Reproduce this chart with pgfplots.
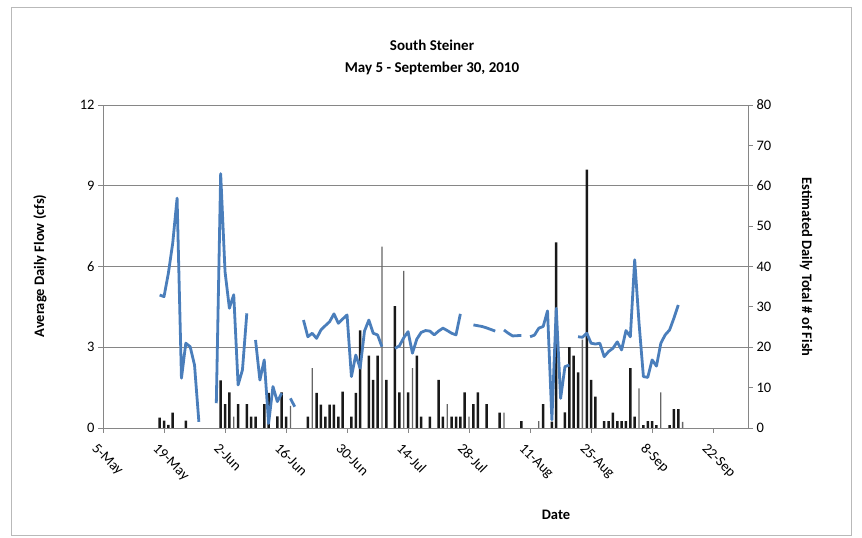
\documentclass[border=0pt]{standalone}
\usepackage{pgfplots}
\usepackage{pgfplotstable}
\pgfplotsset{compat=1.18}
\usepackage{fontspec}
\setmainfont{Carlito}
\definecolor{flowblue}{RGB}{74,126,187}
\definecolor{axgray}{RGB}{134,134,134}
\newcommand\tickfont{\fontsize{14.5}{16}\selectfont}
\newcommand\titlefont{\bfseries\fontsize{15}{17}\selectfont}
\newcommand\labfont{\bfseries\fontsize{14.5}{17}\selectfont}

% day = days after 5 May 2010
\pgfplotstableread{
day flow
13 4.94
14 4.88
15 5.75
16 6.87
17 8.54
18 1.85
19 3.15
20 3.02
21 2.34
22 0.23
23 nan
26 0.92
27 9.45
28 5.81
29 4.45
30 4.95
31 1.6
32 2.16
33 4.26
34 nan
35 3.27
36 1.78
37 2.53
38 0.17
39 1.54
40 0.98
41 1.29
42 nan
43 1.1
44 0.79
45 nan
46 4.01
47 3.39
48 3.52
49 3.33
50 3.64
51 3.8
52 3.95
53 4.24
54 3.89
55 4.05
56 4.2
57 1.91
58 2.71
59 2.22
60 3.6
61 4.01
62 3.52
63 3.46
64 3.02
65 nan
67 2.96
68 3.05
69 3.35
70 3.58
71 2.78
72 3.3
73 3.55
74 3.62
75 3.6
76 3.46
77 3.6
78 3.71
79 3.62
80 3.52
81 3.46
82 4.24
83 nan
85 3.83
86 3.8
87 3.77
88 3.72
89 3.66
90 3.6
91 nan
92 3.64
93 3.52
94 3.42
95 3.43
96 3.44
97 nan
98 3.39
99 3.45
100 3.71
101 3.77
102 4.35
103 0.3
104 4.45
105 1.1
106 2.28
107 2.34
108 nan
109 3.39
110 3.37
111 3.52
112 3.15
113 3.12
114 3.15
115 2.65
116 2.84
117 2.96
118 3.2
119 2.9
120 3.62
121 3.39
122 6.25
123 3.89
124 1.91
125 1.88
126 2.53
127 2.3
128 3.15
129 3.46
130 3.64
131 4.08
132 4.57
}\flowdata

\pgfplotstableread{
day fish
13 2.6
14 1.8
15 0.8
16 3.8
19 1.8
27 11.8
28 5.9
29 8.8
31 5.9
33 5.9
34 2.8
35 2.8
37 5.9
38 8.7
40 2.9
41 8.8
42 2.8
47 2.8
49 8.7
50 5.8
51 2.8
52 5.8
53 5.8
54 2.8
55 9
57 2.8
58 8.7
59 24.2
61 17.9
62 11.9
63 17.9
65 11.9
67 30.2
68 8.8
70 8.8
72 17.9
73 2.8
75 2.8
77 11.9
78 2.8
80 2.8
81 2.8
82 2.8
83 8.8
85 5.9
86 8.8
88 5.9
91 3.8
96 1.7
101 5.9
103 1.6
104 46
106 3.9
107 20
108 17.9
109 13.8
111 64
112 11.9
113 7.8
115 1.7
116 1.7
117 3.8
118 1.7
119 1.7
120 1.7
121 14.8
122 2.8
124 0.7
125 1.7
126 1.7
127 0.7
130 0.7
131 4.7
132 4.7
}\fishdark

\pgfplotstableread{
day fish
30 2.8
43 5.5
48 14.8
64 44.9
69 38.9
71 14.8
79 5.9
84 2.8
92 3.8
100 1.7
110 21.9
123 9.8
128 8.8
133 1.5
}\fishlight

\begin{document}
\begin{tikzpicture}[x=1pt,y=1pt]
\useasboundingbox (0,0) rectangle (862,538);
\draw[gray!55, line width=0.6pt] (11,3) rectangle (851,531);

% fish counts, right axis
\begin{axis}[
  at={(103pt,110pt)}, anchor=south west,
  scale only axis, width=645pt, height=323pt,
  xmin=0, xmax=148, ymin=0, ymax=80,
  axis x line*=bottom, axis y line*=right,
  axis line style={axgray, line width=0.8pt},
  tick style={axgray, line width=0.8pt},
  tick align=outside, major tick length=5pt,
  xtick={0,14,...,140},
  xticklabels={5-May,19-May,2-Jun,16-Jun,30-Jun,14-Jul,28-Jul,11-Aug,25-Aug,8-Sep,22-Sep},
  xticklabel style={rotate=-45, anchor=north west, font=\tickfont, inner sep=1pt, yshift=-9pt, xshift=2pt},
  ytick={0,10,...,80},
  yticklabel style={font=\tickfont},
  extra y ticks={20,40,60,80},
  extra y tick labels={},
  extra y tick style={grid=major, major tick length=0pt},
  major grid style={axgray, line width=0.8pt},
  /pgf/number format/assume math mode=true,
  ybar, bar width=2.5pt,
]
\addplot[fill=black!90, draw=none, bar shift=0pt] table[x=day, y=fish]{\fishdark};
\addplot[fill=black!60, draw=none, bar shift=0pt, bar width=1.3pt] table[x=day, y=fish]{\fishlight};
\end{axis}

% average daily flow, left axis
\begin{axis}[
  at={(103pt,110pt)}, anchor=south west,
  scale only axis, width=645pt, height=323pt,
  xmin=0, xmax=148, ymin=0, ymax=12,
  axis x line=none, axis y line*=left,
  axis line style={axgray, line width=0.8pt},
  tick style={axgray, line width=0.8pt},
  tick align=outside, major tick length=5pt,
  ytick={0,3,...,12},
  yticklabel style={font=\tickfont},
  /pgf/number format/assume math mode=true,
  unbounded coords=jump,
]
\addplot[flowblue, line width=2.8pt, line join=round, no markers] table[x=day, y=flow]{\flowdata};
\end{axis}

\node[font=\titlefont] at (432,493) {South Steiner};
\node[font=\titlefont] at (432,470) {May 5 - September 30, 2010};
\node[font=\labfont, rotate=90] at (40,272) {Average Daily Flow (cfs)};
\node[font=\labfont, rotate=-90] at (806,271) {Estimated Daily Total \# of Fish};
\node[font=\labfont] at (556,23) {Date};
\end{tikzpicture}
\end{document}
